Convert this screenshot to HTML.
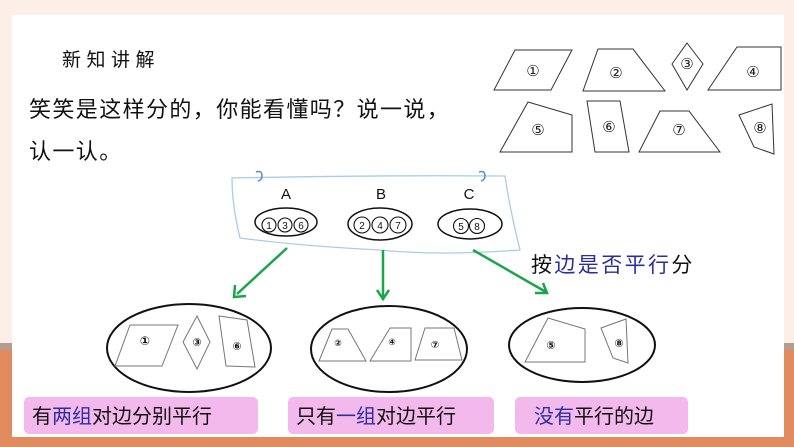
<!DOCTYPE html>
<html><head><meta charset="utf-8"><style>
html,body{margin:0;padding:0;width:794px;height:447px;overflow:hidden;background:#fcefe7}
svg{display:block}
</style></head><body>
<svg width="794" height="447" viewBox="0 0 794 447" xmlns="http://www.w3.org/2000/svg" font-family="Liberation Sans, Noto Sans CJK SC, sans-serif">
<rect x="0" y="0" width="794" height="447" fill="#fcefe7"/>
<rect x="0" y="343" width="794" height="7" fill="#b89b8e"/>
<rect x="0" y="350" width="794" height="97" fill="#e08a5d"/>
<rect x="12" y="15" width="772" height="422" fill="#ffffff"/>

<g font-family="Liberation Sans, Noto Sans CJK SC, sans-serif" fill="#111">
<text x="62" y="66" font-size="19" letter-spacing="5.5">新知讲解</text>
<text x="29" y="117" font-size="22" letter-spacing="1.4">笑笑是这样分的，你能看懂吗？说一说，</text>
<text x="29" y="159" font-size="22" letter-spacing="1.4">认一认。</text>
</g>

<!-- top right shapes -->
<g fill="none" stroke="#333" stroke-width="1">
<polygon points="515,50 572,50 551,90 494,90"/>
<polygon points="598,49 633,49 665,91 583,91"/>
<polygon points="687,43 703,64 687,90 672,64"/>
<polygon points="737,47 781,47 781,90 708,90"/>
<polygon points="528,102 572,115 572,152 500,152"/>
<polygon points="587,101 620,101 629,152 595,152"/>
<polygon points="660,111 689,111 720,152 639,152"/>
<polygon points="739,115 772,104 774,154 754,147"/>
</g>
<g font-family="Liberation Serif, DejaVu Sans, serif" font-size="15" fill="#222" text-anchor="middle">
<text x="533" y="76">①</text><text x="616" y="78">②</text><text x="687" y="69">③</text><text x="753" y="77">④</text>
<text x="538" y="135">⑤</text><text x="609" y="132">⑥</text><text x="679" y="135">⑦</text><text x="760" y="133">⑧</text>
</g>

<!-- paper -->
<path d="M232,178 Q370,175 505,176 Q510,210 520,250 Q440,256 380,250 Q300,246 240,238 Q232,205 232,178 Z" fill="none" stroke="#a9cde6" stroke-width="1.3"/>
<path d="M256,172 q6,-2 6,4 q0,4 -4,5" fill="none" stroke="#5a8fc4" stroke-width="1.5"/>
<path d="M479,172 q6,-2 6,4 q0,4 -4,5" fill="none" stroke="#5a8fc4" stroke-width="1.5"/>
<g font-size="15" fill="#111" text-anchor="middle">
<text x="286" y="199">A</text><text x="381" y="199">B</text><text x="469" y="199">C</text>
</g>
<g fill="none" stroke="#111" stroke-width="1.5">
<ellipse cx="286" cy="222" rx="31" ry="14"/>
<ellipse cx="380" cy="224" rx="32" ry="16"/>
<ellipse cx="470" cy="224" rx="32" ry="15"/>
<circle cx="269" cy="225" r="7" stroke-width="1.1"/><circle cx="285" cy="225" r="7" stroke-width="1.1"/><circle cx="301" cy="225" r="7" stroke-width="1.1"/>
<circle cx="362" cy="225" r="8" stroke-width="1.1"/><circle cx="380" cy="225" r="8" stroke-width="1.1"/><circle cx="398" cy="225" r="8" stroke-width="1.1"/>
<circle cx="461" cy="226" r="7.5" stroke-width="1.1"/><circle cx="477" cy="226" r="7.5" stroke-width="1.1"/>
</g>
<g font-size="10" fill="#111" text-anchor="middle">
<text x="269" y="229">1</text><text x="285" y="229">3</text><text x="301" y="229">6</text>
<text x="362" y="229">2</text><text x="380" y="229">4</text><text x="398" y="229">7</text>
<text x="461" y="230">5</text><text x="477" y="230">8</text>
</g>

<!-- arrows -->
<g stroke="#1aa54a" stroke-width="2.5" fill="none">
<line x1="287" y1="248" x2="237" y2="294"/>
<polyline points="235,285 234,297 246,296"/>
<line x1="383" y1="250" x2="383" y2="298"/>
<polyline points="377,290 383,299 389,290"/>
<line x1="473" y1="250" x2="546" y2="292"/>
<polyline points="535,293 547,293 543,283"/>
</g>
<text x="531" y="272" font-size="21" letter-spacing="2.4" fill="#111">按<tspan fill="#2a2fa0">边是否平行</tspan>分</text>

<!-- bottom ellipses -->
<g fill="none" stroke="#111" stroke-width="2">
<ellipse cx="189" cy="348" rx="82" ry="44"/>
<ellipse cx="389" cy="349" rx="78" ry="43"/>
<ellipse cx="582" cy="345" rx="73" ry="37"/>
</g>
<g fill="none" stroke="#777" stroke-width="1">
<polygon points="130,325 178,325 162,366 115,366"/>
<polygon points="197,316 210,342 197,369 183,342"/>
<polygon points="219,316 247,320 255,367 226,366"/>
<polygon points="332,329 348,329 366,361 319,361"/>
<polygon points="390,328 411,328 411,361 370,361"/>
<polygon points="425,328 454,328 462,360 415,360"/>
<polygon points="548,318 585,329 585,362 525,362"/>
<polygon points="601,328 626,319 628,363 613,358"/>
</g>
<g font-family="Liberation Serif, DejaVu Sans, serif" font-weight="bold" fill="#111" text-anchor="middle">
<text x="145" y="345" font-size="12">①</text><text x="197" y="346" font-size="11">③</text><text x="237" y="350" font-size="11">⑥</text>
<text x="338" y="346" font-size="9">②</text><text x="392" y="345" font-size="9">④</text><text x="435" y="348" font-size="10">⑦</text>
<text x="551" y="349" font-size="11">⑤</text><text x="619" y="347" font-size="11">⑧</text>
</g>

<!-- pink labels -->
<g fill="#f4b9ec">
<rect x="24" y="397" width="234" height="37" rx="5"/>
<rect x="288" y="397" width="206" height="37" rx="5"/>
<rect x="515" y="397" width="173" height="37" rx="5"/>
</g>
<g font-size="20" fill="#111">
<text x="32" y="423">有<tspan fill="#2a2fa0">两组</tspan>对边分别平行</text>
<text x="296" y="423">只有<tspan fill="#2a2fa0">一组</tspan>对边平行</text>
<text x="534" y="423"><tspan fill="#2a2fa0">没有</tspan>平行的边</text>
</g>
</svg>
</body></html>
